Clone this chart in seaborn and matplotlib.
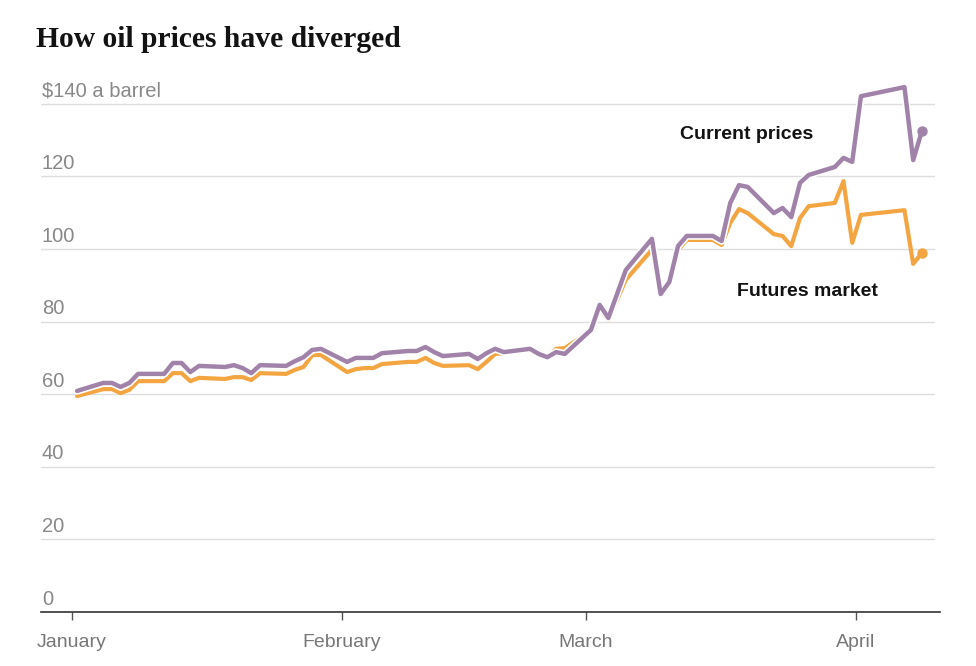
import pandas as pd
import matplotlib
matplotlib.use("Agg")
import matplotlib.pyplot as plt
import matplotlib.patheffects as pe
import seaborn as sns

# trading days shown in the chart (Good Friday / Easter Monday closed)
dates = pd.bdate_range("2026-01-02", "2026-04-09")
dates = dates.drop(pd.to_datetime(["2026-04-03", "2026-04-06"]))

# Dated (physical) prices, $ a barrel
current = [
    60.9, 63.1, 63.1, 62.0, 63.1, 65.6, 65.6, 68.6, 68.6, 66.1, 67.8,
    67.5, 68.0, 67.2, 65.8, 68.0, 67.8, 69.1, 70.2, 72.2, 72.5,
    68.9, 70.0, 70.0, 70.0, 71.3, 71.9, 71.9, 73.0, 71.6, 70.5,
    71.1, 69.7, 71.3, 72.5, 71.6, 72.5, 71.1, 70.2, 71.6, 71.1,
    77.7, 84.6, 81.0, 87.6, 94.2, 102.8, 87.6, 90.9, 100.8, 103.6,
    103.6, 102.2, 112.7, 117.6, 117.1, 109.9, 111.3, 108.8, 118.2, 120.4,
    122.6, 125.1,
    124.0, 142.1, 144.6, 124.5, 132.5,
]

# front-month futures
futures = [
    59.5, 61.4, 61.4, 60.3, 61.2, 63.6, 63.6, 65.8, 65.8, 63.6, 64.5,
    64.2, 64.7, 64.7, 63.9, 65.8, 65.6, 66.7, 67.5, 70.8, 70.8,
    66.1, 66.9, 67.2, 67.2, 68.3, 68.9, 68.9, 70.0, 68.6, 67.8,
    68.0, 66.9, 68.9, 71.1, 71.3, 72.2, 71.1, 70.2, 72.5, 72.7,
    77.5, 83.5, 80.5, 86.0, 91.5, 99.8, 87.3, 90.4, 99.7, 102.5,
    102.5, 101.1, 107.2, 111.0, 109.9, 104.1, 103.6, 100.8, 108.5, 111.8,
    112.7, 118.7,
    101.7, 109.4, 110.7, 95.9, 98.9,
]

y_ticks = [0, 20, 40, 60, 80, 100, 120, 140]
y_labels = ["0", "20", "40", "60", "80", "100", "120", "$140 a barrel"]
month_ticks = pd.to_datetime(["2026-01-01", "2026-02-01", "2026-03-01", "2026-04-01"])
month_labels = ["January", "February", "March", "April"]

# prices are plotted a little before the day tick, as in the original graphic
df = pd.DataFrame({"date": dates - pd.Timedelta(hours=10),
                   "current": current, "futures": futures})

purple = "#a183aa"
orange = "#f3a541"

sns.set_theme(style="white")
plt.rcParams["font.family"] = ["Liberation Sans", "DejaVu Sans"]

fig = plt.figure(figsize=(9.76, 6.66), dpi=100)
ax = fig.add_axes([0.042, 0.0811, 0.921, 0.8175])

sns.lineplot(data=df, x="date", y="futures", color=orange, linewidth=3.0, ax=ax)
sns.lineplot(data=df, x="date", y="current", color=purple, linewidth=3.2, ax=ax)
ax.lines[-1].set_path_effects([pe.Stroke(linewidth=5.5, foreground="white"), pe.Normal()])

# end dots
ax.plot(df["date"].iloc[-1], df["futures"].iloc[-1], "o", color=orange, markersize=6.5)
ax.plot(df["date"].iloc[-1], df["current"].iloc[-1], "o", color=purple, markersize=6.5)

ax.set_ylim(0, 150)
ax.set_xlim(pd.Timestamp("2026-01-01") - pd.Timedelta(days=3.56),
            pd.Timestamp("2026-01-01") + pd.Timedelta(days=99.65))

for v in y_ticks[1:]:
    ax.axhline(v, xmax=0.994, color="#dddddd", linewidth=1, zorder=0)
for v, lab in zip(y_ticks, y_labels):
    ax.annotate(lab, xy=(0.001, v), xycoords=("axes fraction", "data"),
                xytext=(0, 2.5), textcoords="offset points",
                ha="left", va="bottom", fontsize=14.5, color="#888888")

ax.set_yticks([])
ax.set_xticks(month_ticks)
ax.set_xticklabels(month_labels, fontsize=14, color="#777777")
ax.tick_params(axis="x", direction="out", length=6, width=1, color="#555555",
               pad=10, bottom=True)
ax.set_xlabel("")
ax.set_ylabel("")

for s in ["top", "right", "left"]:
    ax.spines[s].set_visible(False)
ax.spines["bottom"].set_color("#333333")
ax.spines["bottom"].set_linewidth(1.2)

ax.text(pd.Timestamp("2026-03-19 12:00"), 131.6, "Current prices", ha="center", va="center",
        fontsize=14, fontweight="bold", color="#121212")
ax.text(pd.Timestamp("2026-03-26 10:00"), 88.3, "Futures market", ha="center", va="center",
        fontsize=14, fontweight="bold", color="#121212")

fig.text(0.037, 0.93, "How oil prices have diverged", ha="left", va="baseline",
         family=["Liberation Serif", "DejaVu Serif"], fontsize=21.3, fontweight="bold",
         color="#121212")

fig.savefig("out.png", dpi=100)
